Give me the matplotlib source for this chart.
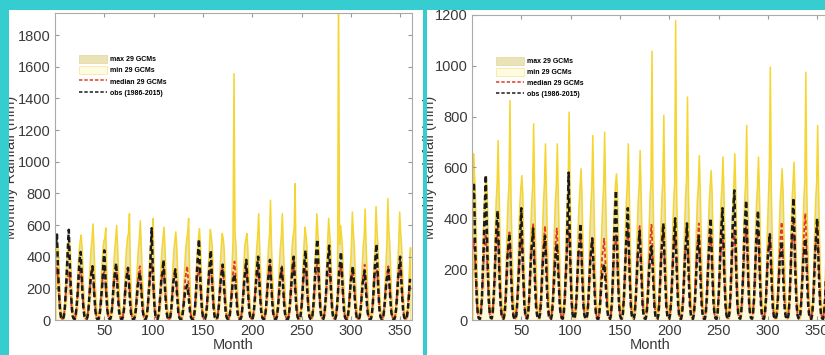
import numpy as np
import matplotlib
matplotlib.use("Agg")
import matplotlib.pyplot as plt
from matplotlib.patches import Rectangle, Patch
from matplotlib.lines import Line2D

plt.rcParams['font.family'] = ['Liberation Sans', 'DejaVu Sans']

# months 1..360 (1986-2015)
months = np.arange(1, 361)

# observed monthly rainfall (mm), one row per year, Jan..Dec
obs = [
    480, 540, 330, 180, 70, 18, 6, 4, 25, 80, 190, 310,
    450, 570, 360, 210, 80, 25, 9, 6, 30, 95, 170, 290,
    380, 430, 300, 150, 60, 20, 7, 5, 22, 70, 160, 250,
    300, 340, 260, 140, 55, 15, 5, 3, 20, 75, 150, 230,
    350, 440, 290, 170, 65, 22, 8, 6, 28, 85, 180, 260,
    310, 360, 240, 130, 50, 18, 6, 4, 24, 70, 165, 240,
    290, 330, 250, 120, 45, 15, 5, 3, 20, 65, 140, 220,
    260, 300, 230, 140, 55, 20, 7, 5, 25, 80, 170, 250,
    420, 580, 360, 190, 70, 22, 8, 5, 30, 90, 180, 270,
    300, 380, 260, 150, 55, 18, 6, 4, 22, 75, 160, 240,
    280, 320, 230, 130, 50, 16, 5, 3, 20, 70, 130, 180,
    200, 220, 180, 110, 45, 15, 5, 4, 22, 80, 180, 310,
    420, 510, 320, 170, 65, 20, 7, 5, 25, 85, 175, 280,
    360, 440, 290, 160, 60, 18, 6, 4, 24, 80, 160, 250,
    300, 350, 250, 140, 55, 17, 6, 4, 22, 70, 150, 220,
    260, 290, 220, 130, 50, 16, 5, 3, 20, 75, 165, 260,
    320, 380, 260, 150, 55, 18, 6, 4, 25, 80, 170, 260,
    340, 400, 270, 150, 60, 18, 6, 4, 23, 75, 165, 250,
    310, 380, 260, 140, 55, 17, 6, 4, 22, 70, 150, 240,
    290, 330, 240, 130, 50, 16, 5, 3, 22, 80, 170, 270,
    340, 400, 280, 150, 60, 18, 6, 4, 25, 85, 180, 290,
    370, 440, 300, 160, 60, 20, 7, 5, 27, 90, 200, 330,
    440, 510, 350, 190, 70, 22, 8, 5, 30, 95, 190, 320,
    400, 470, 320, 170, 65, 20, 7, 5, 26, 85, 180, 300,
    360, 430, 290, 160, 60, 18, 6, 4, 24, 75, 160, 250,
    290, 340, 250, 130, 50, 16, 5, 3, 20, 70, 150, 230,
    270, 310, 230, 120, 48, 15, 5, 3, 22, 80, 180, 300,
    400, 480, 320, 170, 65, 20, 7, 5, 25, 80, 160, 240,
    280, 320, 240, 130, 50, 16, 5, 3, 22, 75, 165, 270,
    340, 400, 280, 150, 60, 18, 6, 4, 25, 80, 170, 260,
]

# left panel: max / min / median of 29 GCMs
max_left = [
    500, 480, 440, 270, 130, 55, 28, 25, 65, 190, 330, 430,
    490, 500, 450, 280, 135, 58, 30, 26, 68, 195, 335, 440,
    500, 540, 460, 290, 140, 60, 30, 28, 70, 200, 340, 450,
    510, 610, 470, 295, 142, 60, 31, 28, 72, 202, 345, 440,
    500, 520, 585, 300, 145, 62, 31, 28, 70, 198, 340, 440,
    510, 600, 465, 290, 140, 60, 30, 27, 69, 200, 350, 455,
    520, 550, 675, 310, 150, 62, 32, 29, 72, 205, 345, 450,
    515, 630, 470, 295, 142, 60, 31, 28, 70, 200, 340, 445,
    510, 540, 645, 305, 148, 62, 31, 28, 71, 202, 345, 452,
    520, 590, 465, 290, 140, 60, 30, 27, 69, 198, 338, 440,
    505, 560, 460, 288, 138, 58, 30, 27, 68, 196, 336, 445,
    510, 550, 645, 302, 146, 61, 31, 28, 70, 200, 342, 450,
    520, 580, 470, 292, 141, 60, 30, 28, 70, 200, 340, 455,
    575, 530, 460, 290, 140, 60, 30, 27, 69, 198, 338, 460,
    550, 520, 455, 286, 138, 58, 30, 27, 68, 196, 340, 500,
    1560, 560, 470, 295, 142, 60, 31, 28, 70, 200, 345, 480,
    510, 550, 460, 290, 140, 60, 30, 27, 69, 200, 342, 455,
    530, 675, 475, 298, 144, 61, 31, 28, 71, 203, 346, 460,
    540, 760, 480, 300, 145, 62, 31, 28, 72, 205, 350, 465,
    530, 675, 475, 298, 144, 61, 31, 28, 71, 203, 346, 470,
    540, 580, 865, 310, 150, 63, 32, 29, 73, 206, 352, 480,
    590, 540, 465, 292, 141, 60, 30, 27, 70, 200, 342, 490,
    675, 560, 470, 295, 142, 60, 31, 28, 70, 202, 345, 500,
    645, 550, 465, 292, 141, 60, 30, 27, 70, 200, 2100, 480,
    600, 540, 460, 290, 140, 60, 30, 27, 69, 198, 340, 460,
    685, 560, 470, 295, 142, 60, 31, 28, 70, 202, 345, 470,
    530, 705, 475, 298, 144, 61, 31, 28, 71, 203, 346, 475,
    720, 570, 475, 298, 144, 61, 31, 28, 71, 203, 346, 480,
    770, 580, 480, 300, 145, 62, 31, 28, 72, 205, 350, 485,
    685, 560, 470, 295, 142, 60, 31, 28, 70, 202, 345, 460,
]

min_left = [
    170, 210, 150, 80, 22, 5, 1, 1, 8, 35, 90, 140,
    165, 200, 145, 78, 21, 5, 1, 1, 8, 33, 88, 150,
    180, 225, 160, 85, 24, 6, 1, 1, 9, 37, 95, 145,
    175, 215, 155, 82, 23, 5, 1, 1, 8, 36, 92, 140,
    170, 205, 150, 80, 22, 5, 1, 1, 8, 35, 90, 150,
    185, 230, 162, 86, 24, 6, 1, 1, 9, 38, 96, 155,
    180, 220, 158, 84, 23, 5, 1, 1, 9, 36, 93, 145,
    175, 212, 152, 81, 22, 5, 1, 1, 8, 35, 91, 150,
    190, 235, 165, 88, 25, 6, 1, 1, 9, 38, 97, 148,
    178, 218, 156, 83, 23, 5, 1, 1, 8, 36, 92, 142,
    170, 208, 150, 80, 22, 5, 1, 1, 8, 35, 90, 150,
    182, 224, 160, 85, 24, 6, 1, 1, 9, 37, 95, 152,
    186, 228, 162, 86, 24, 6, 1, 1, 9, 37, 95, 148,
    180, 220, 158, 84, 23, 5, 1, 1, 9, 36, 93, 150,
    176, 214, 154, 82, 23, 5, 1, 1, 8, 35, 91, 155,
    190, 236, 166, 88, 25, 6, 1, 1, 9, 38, 97, 150,
    182, 222, 158, 84, 23, 5, 1, 1, 9, 36, 94, 148,
    178, 218, 156, 83, 23, 5, 1, 1, 8, 36, 92, 152,
    186, 228, 162, 86, 24, 6, 1, 1, 9, 37, 95, 155,
    190, 234, 165, 88, 25, 6, 1, 1, 9, 38, 96, 150,
    184, 226, 160, 85, 24, 6, 1, 1, 9, 37, 94, 148,
    178, 218, 156, 83, 23, 5, 1, 1, 8, 36, 92, 155,
    192, 238, 168, 89, 25, 6, 1, 1, 9, 38, 98, 158,
    188, 232, 164, 87, 24, 6, 1, 1, 9, 37, 96, 150,
    182, 222, 158, 84, 23, 5, 1, 1, 9, 36, 93, 152,
    186, 228, 162, 86, 24, 6, 1, 1, 9, 37, 95, 156,
    190, 234, 165, 88, 25, 6, 1, 1, 9, 38, 96, 160,
    196, 242, 170, 90, 25, 6, 1, 1, 10, 39, 99, 155,
    188, 230, 164, 87, 24, 6, 1, 1, 9, 37, 95, 158,
    192, 238, 168, 89, 25, 6, 1, 1, 9, 38, 97, 150,
]

median_left = [
    290, 330, 260, 160, 60, 20, 8, 7, 28, 85, 170, 240,
    270, 310, 250, 150, 58, 19, 7, 6, 27, 82, 165, 245,
    285, 330, 255, 155, 60, 20, 8, 7, 28, 86, 170, 250,
    300, 340, 262, 160, 62, 21, 8, 7, 29, 88, 172, 248,
    280, 320, 250, 150, 58, 19, 7, 6, 27, 84, 168, 255,
    305, 350, 270, 165, 63, 21, 8, 7, 29, 88, 175, 245,
    290, 330, 255, 155, 60, 20, 8, 7, 28, 85, 170, 250,
    300, 340, 265, 160, 62, 21, 8, 7, 29, 87, 172, 260,
    315, 360, 275, 168, 64, 22, 9, 8, 30, 90, 178, 250,
    290, 330, 255, 155, 60, 20, 8, 7, 28, 85, 170, 245,
    280, 320, 250, 150, 58, 19, 7, 6, 27, 83, 168, 250,
    300, 340, 262, 160, 62, 21, 8, 7, 29, 88, 172, 248,
    290, 330, 255, 155, 60, 20, 8, 7, 28, 85, 170, 255,
    305, 350, 270, 165, 63, 21, 8, 7, 29, 88, 175, 250,
    300, 340, 262, 160, 62, 21, 8, 7, 29, 86, 172, 262,
    320, 370, 285, 172, 66, 22, 9, 8, 30, 92, 180, 255,
    300, 340, 262, 160, 62, 21, 8, 7, 29, 87, 172, 250,
    290, 330, 255, 155, 60, 20, 8, 7, 28, 85, 170, 260,
    315, 360, 275, 168, 64, 22, 9, 8, 30, 90, 178, 255,
    300, 340, 262, 160, 62, 21, 8, 7, 29, 88, 172, 270,
    330, 380, 290, 178, 68, 23, 9, 8, 31, 94, 185, 260,
    305, 350, 270, 165, 63, 21, 8, 7, 29, 88, 175, 265,
    320, 370, 285, 172, 66, 22, 9, 8, 30, 92, 180, 255,
    300, 340, 262, 160, 62, 21, 8, 7, 29, 87, 172, 262,
    315, 360, 275, 168, 64, 22, 9, 8, 30, 90, 178, 250,
    290, 330, 255, 155, 60, 20, 8, 7, 28, 85, 170, 258,
    305, 350, 270, 165, 63, 21, 8, 7, 29, 88, 175, 262,
    315, 360, 275, 168, 64, 22, 9, 8, 30, 90, 178, 255,
    300, 340, 262, 160, 62, 21, 8, 7, 29, 87, 172, 265,
    320, 370, 285, 172, 66, 22, 9, 8, 30, 92, 180, 260,
]

# right panel: max / min / median of 29 GCMs
max_right = [
    656, 580, 490, 300, 148, 64, 32, 29, 74, 203, 348, 460,
    530, 560, 500, 305, 150, 65, 32, 30, 75, 205, 350, 470,
    540, 708, 505, 310, 152, 66, 33, 30, 76, 207, 352, 465,
    535, 866, 500, 308, 150, 65, 32, 30, 75, 205, 350, 455,
    520, 570, 495, 305, 149, 64, 32, 29, 74, 203, 348, 460,
    530, 774, 500, 308, 150, 65, 32, 30, 75, 205, 350, 470,
    540, 695, 505, 310, 152, 66, 33, 30, 76, 207, 352, 465,
    530, 695, 500, 305, 150, 65, 32, 30, 75, 205, 350, 460,
    535, 820, 502, 308, 151, 65, 32, 30, 75, 206, 351, 450,
    520, 597, 495, 302, 148, 64, 32, 29, 74, 203, 348, 455,
    525, 728, 498, 305, 150, 65, 32, 30, 75, 205, 350, 460,
    530, 741, 500, 306, 150, 65, 32, 30, 75, 205, 350, 465,
    535, 577, 502, 308, 151, 65, 32, 30, 75, 206, 351, 470,
    540, 695, 505, 310, 152, 66, 33, 30, 76, 207, 352, 468,
    530, 669, 500, 305, 150, 65, 32, 30, 75, 205, 350, 475,
    550, 1060, 510, 312, 153, 66, 33, 31, 76, 208, 354, 480,
    545, 807, 505, 310, 152, 66, 33, 30, 76, 207, 352, 470,
    540, 1180, 508, 311, 152, 66, 33, 30, 76, 207, 353, 480,
    550, 879, 510, 312, 153, 66, 33, 31, 76, 208, 354, 470,
    535, 649, 502, 308, 151, 65, 32, 30, 75, 206, 351, 460,
    530, 590, 500, 305, 150, 65, 32, 30, 75, 205, 350, 465,
    532, 643, 500, 306, 150, 65, 32, 30, 75, 205, 350, 470,
    538, 656, 504, 309, 151, 65, 32, 30, 75, 206, 352, 475,
    545, 767, 507, 310, 152, 66, 33, 30, 76, 207, 353, 460,
    530, 643, 500, 305, 150, 65, 32, 30, 75, 205, 350, 470,
    600, 997, 505, 310, 152, 66, 33, 30, 76, 207, 352, 465,
    530, 597, 500, 305, 150, 65, 32, 30, 75, 205, 350, 470,
    540, 623, 505, 310, 152, 66, 33, 30, 76, 207, 352, 480,
    550, 977, 510, 312, 153, 66, 33, 31, 76, 208, 354, 475,
    545, 767, 507, 310, 152, 66, 33, 30, 76, 207, 353, 460,
]

min_right = [
    160, 200, 142, 76, 21, 5, 1, 1, 8, 34, 88, 138,
    172, 212, 150, 80, 22, 5, 1, 1, 8, 35, 90, 145,
    178, 220, 156, 83, 23, 5, 1, 1, 8, 36, 92, 150,
    184, 226, 160, 85, 24, 6, 1, 1, 9, 37, 94, 146,
    176, 216, 154, 82, 23, 5, 1, 1, 8, 35, 91, 152,
    188, 232, 164, 87, 24, 6, 1, 1, 9, 37, 96, 150,
    182, 224, 160, 85, 24, 6, 1, 1, 9, 37, 94, 148,
    178, 218, 156, 83, 23, 5, 1, 1, 8, 36, 92, 150,
    186, 228, 162, 86, 24, 6, 1, 1, 9, 37, 95, 145,
    172, 212, 150, 80, 22, 5, 1, 1, 8, 35, 90, 148,
    176, 216, 154, 82, 23, 5, 1, 1, 8, 35, 91, 152,
    184, 226, 160, 85, 24, 6, 1, 1, 9, 37, 94, 150,
    180, 220, 158, 84, 23, 5, 1, 1, 9, 36, 93, 155,
    190, 234, 165, 88, 25, 6, 1, 1, 9, 38, 96, 152,
    184, 226, 160, 85, 24, 6, 1, 1, 9, 37, 94, 150,
    192, 238, 168, 89, 25, 6, 1, 1, 9, 38, 98, 155,
    186, 228, 162, 86, 24, 6, 1, 1, 9, 37, 95, 152,
    182, 224, 160, 85, 24, 6, 1, 1, 9, 37, 94, 158,
    194, 240, 170, 90, 25, 6, 1, 1, 10, 39, 99, 156,
    190, 234, 165, 88, 25, 6, 1, 1, 9, 38, 96, 150,
    184, 226, 160, 85, 24, 6, 1, 1, 9, 37, 94, 152,
    180, 220, 158, 84, 23, 5, 1, 1, 9, 36, 93, 156,
    188, 232, 164, 87, 24, 6, 1, 1, 9, 37, 96, 160,
    196, 242, 170, 90, 25, 6, 1, 1, 10, 39, 99, 155,
    186, 228, 162, 86, 24, 6, 1, 1, 9, 37, 95, 150,
    182, 224, 160, 85, 24, 6, 1, 1, 9, 37, 94, 160,
    198, 246, 172, 92, 26, 6, 1, 1, 10, 40, 100, 162,
    200, 250, 175, 93, 26, 6, 1, 1, 10, 40, 101, 160,
    206, 256, 180, 95, 27, 7, 1, 1, 10, 41, 103, 158,
    196, 242, 170, 90, 25, 6, 1, 1, 10, 39, 99, 150,
]

median_right = [
    280, 320, 250, 150, 58, 19, 7, 6, 27, 84, 168, 250,
    300, 350, 265, 160, 62, 21, 8, 7, 29, 88, 172, 255,
    310, 360, 275, 165, 64, 22, 9, 8, 30, 90, 178, 258,
    300, 345, 265, 160, 62, 21, 8, 7, 29, 87, 172, 255,
    305, 350, 270, 165, 63, 21, 8, 7, 29, 88, 175, 262,
    330, 380, 290, 178, 68, 23, 9, 8, 31, 94, 185, 265,
    320, 370, 285, 172, 66, 22, 9, 8, 30, 92, 180, 260,
    315, 360, 275, 168, 64, 22, 9, 8, 30, 90, 178, 255,
    320, 365, 280, 170, 65, 22, 9, 8, 30, 91, 180, 250,
    300, 340, 262, 160, 62, 21, 8, 7, 29, 87, 172, 248,
    290, 330, 255, 155, 60, 20, 8, 7, 28, 85, 170, 250,
    280, 320, 250, 150, 58, 19, 7, 6, 27, 84, 168, 255,
    300, 340, 262, 160, 62, 21, 8, 7, 29, 87, 172, 260,
    315, 360, 275, 168, 64, 22, 9, 8, 30, 90, 178, 262,
    320, 370, 285, 172, 66, 22, 9, 8, 30, 92, 180, 255,
    325, 375, 288, 175, 67, 23, 9, 8, 31, 93, 182, 260,
    310, 355, 272, 165, 63, 21, 8, 7, 29, 89, 176, 258,
    305, 350, 270, 165, 63, 21, 8, 7, 29, 88, 175, 265,
    320, 370, 285, 172, 66, 22, 9, 8, 30, 92, 180, 270,
    330, 380, 290, 178, 68, 23, 9, 8, 31, 94, 185, 262,
    305, 350, 270, 165, 63, 21, 8, 7, 29, 88, 175, 255,
    300, 345, 265, 160, 62, 21, 8, 7, 29, 87, 172, 258,
    315, 360, 275, 168, 64, 22, 9, 8, 30, 90, 178, 262,
    320, 370, 285, 172, 66, 22, 9, 8, 30, 92, 180, 265,
    310, 355, 272, 165, 63, 21, 8, 7, 29, 89, 176, 260,
    300, 340, 262, 160, 62, 21, 8, 7, 29, 87, 172, 270,
    335, 385, 295, 180, 69, 23, 9, 8, 31, 95, 186, 275,
    340, 395, 300, 182, 70, 24, 10, 9, 32, 96, 188, 280,
    365, 420, 320, 195, 74, 25, 10, 9, 33, 100, 195, 270,
    330, 380, 290, 178, 68, 23, 9, 8, 31, 94, 185, 265,
]

labels = ['max 29 GCMs', 'min 29 GCMs', 'median 29 GCMs', 'obs (1986-2015)']

teal = '#35CDD0'
tan = '#EBE3B8'
gold = '#F5D530'
cream = '#FFFBE3'
txt = '#3a3a3a'
dash = (0, (2.2, 1.3))

W, H = 825, 355
fig = plt.figure(figsize=(W / 100, H / 100), dpi=100)
fig.patch.set_facecolor('white')


def px_axes(x0, x1, ytop, ybot):
    return fig.add_axes([x0 / W, 1 - ybot / H, (x1 - x0) / W, (ybot - ytop) / H])


def draw_panel(ax, mx, mn, med, ymax, yticks):
    ax.fill_between(months, 0, mx, facecolor=tan, edgecolor=gold, lw=1.1)
    ax.fill_between(months, 0, mn, facecolor=cream, edgecolor='#F7E48A', lw=0.7)
    ax.plot(months, med, color='#E03A2A', lw=1.3, ls=dash)
    ax.plot(months, obs, color='#1a1a1a', lw=1.8, ls=dash)
    ax.set_xlim(0, 362)
    ax.set_ylim(0, ymax)
    ax.set_xticks([50, 100, 150, 200, 250, 300, 350])
    ax.set_yticks(yticks)
    ax.tick_params(direction='in', length=3, top=True, right=True,
                   color='#999999', labelcolor=txt, labelsize=10.5, pad=3)
    for s in ax.spines.values():
        s.set_color('#aaaaaa')
        s.set_linewidth(0.8)
    ax.set_xlabel('Month', fontsize=10.5, color=txt, labelpad=0)
    handles = [
        Patch(facecolor=tan, edgecolor='#E0D6A0', lw=0.5),
        Patch(facecolor=cream, edgecolor='#F7E58C', lw=0.5),
        Line2D([], [], color='#E03A2A', lw=1.1, ls=dash),
        Line2D([], [], color='#1a1a1a', lw=1.1, ls=dash),
    ]
    ax.legend(handles, labels, loc='upper left', bbox_to_anchor=(0.06, 0.872),
              frameon=False, prop={'size': 5, 'weight': 'bold'},
              handlelength=4.0, handleheight=1.4, labelspacing=0.4,
              handletextpad=0.4, borderaxespad=0)


ax1 = px_axes(55, 412, 13, 320)
draw_panel(ax1, max_left, min_left, median_left, 1940, range(0, 1801, 200))

ax2 = px_axes(472, 829, 15, 320)
draw_panel(ax2, max_right, min_right, median_right, 1200, range(0, 1201, 200))

for xc in (11, 430):
    fig.text(xc / W, 1 - 167 / H, 'Monthly Rainfall (mm)', rotation=90,
             ha='center', va='center', fontsize=10.5, color=txt)

# teal frame of the screenshot, drawn above everything
for (x0, y0, w, h) in [(0, 0, 9, 355), (0, 0, 825, 10), (423, 0, 4, 355)]:
    fig.add_artist(Rectangle((x0 / W, 1 - (y0 + h) / H), w / W, h / H,
                             transform=fig.transFigure, facecolor=teal,
                             edgecolor='none', zorder=20))

fig.savefig('out.png', dpi=100)
